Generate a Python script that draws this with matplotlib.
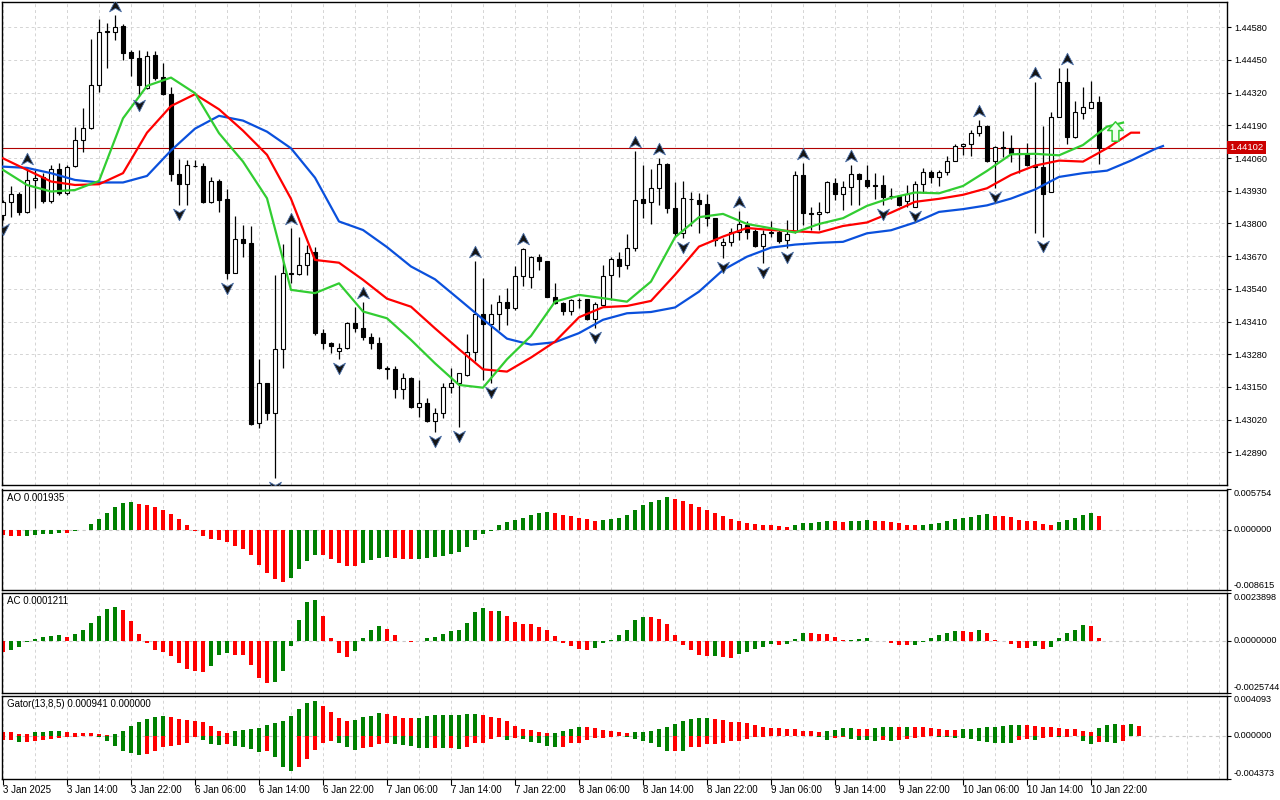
import numpy as np
import matplotlib
matplotlib.use('Agg')
import matplotlib.pyplot as plt
from matplotlib.path import Path
from matplotlib.transforms import offset_copy, blended_transform_factory

plt.rcParams['font.family'] = ['Liberation Sans', 'DejaVu Sans']
plt.rcParams['font.size'] = 7

# ---- price data (H1 candles, 3 Jan 06:00 .. 10 Jan 23:00) ----
opens = [1.43834, 1.43884, 1.43916, 1.43847, 1.43972, 1.43986, 1.43890, 1.44016, 1.43920, 1.44029,
         1.44130, 1.44179, 1.44351, 1.44564, 1.44563, 1.44586, 1.44480, 1.44457, 1.44338, 1.44470,
         1.44381, 1.44314, 1.43997, 1.43956, 1.44030, 1.44030, 1.43887, 1.43969, 1.43898, 1.43605,
         1.43737, 1.43721, 1.43006, 1.43165, 1.43045, 1.43300, 1.43599, 1.43598, 1.43633, 1.43686,
         1.43364, 1.43326, 1.43293, 1.43304, 1.43406, 1.43383, 1.43350, 1.43324, 1.43226, 1.43220,
         1.43141, 1.43187, 1.43069, 1.43085, 1.43016, 1.43045, 1.43149, 1.43165, 1.43198, 1.43288,
         1.43439, 1.43399, 1.43439, 1.43489, 1.43463, 1.43592, 1.43586, 1.43666, 1.43649, 1.43509,
         1.43485, 1.43450, 1.43497, 1.43499, 1.43419, 1.43476, 1.43596, 1.43658, 1.43635, 1.43702,
         1.43896, 1.43884, 1.43943, 1.44036, 1.43861, 1.43761, 1.43899, 1.43894, 1.43878, 1.43821,
         1.43715, 1.43725, 1.43765, 1.43794, 1.43770, 1.43712, 1.43764, 1.43765, 1.43735, 1.43770,
         1.43993, 1.43842, 1.43837, 1.43845, 1.43960, 1.43916, 1.43944, 1.43997, 1.43973, 1.43953,
         1.43953, 1.43911, 1.43911, 1.43890, 1.43867, 1.43957, 1.44006, 1.43984, 1.44004, 1.44050,
         1.44108, 1.44115, 1.44159, 1.44189, 1.44049, 1.44103, 1.44102, 1.44075, 1.44075, 1.44029,
         1.44026, 1.43927, 1.44225, 1.44362, 1.44143, 1.44238, 1.44261, 1.44282]
highs = [1.43894, 1.43947, 1.43927, 1.44020, 1.44013, 1.44000, 1.44033, 1.44040, 1.44033, 1.44185,
         1.44258, 1.44533, 1.44612, 1.44596, 1.44629, 1.44594, 1.44490, 1.44488, 1.44484, 1.44484,
         1.44440, 1.44344, 1.44055, 1.44053, 1.44053, 1.44040, 1.43986, 1.43977, 1.43936, 1.43830,
         1.43794, 1.43788, 1.43260, 1.43167, 1.43596, 1.43717, 1.43781, 1.43745, 1.43715, 1.43708,
         1.43379, 1.43330, 1.43324, 1.43410, 1.43469, 1.43489, 1.43364, 1.43348, 1.43234, 1.43234,
         1.43204, 1.43191, 1.43178, 1.43105, 1.43065, 1.43167, 1.43224, 1.43207, 1.43359, 1.43649,
         1.43582, 1.43480, 1.43516, 1.43542, 1.43629, 1.43702, 1.43671, 1.43678, 1.43651, 1.43562,
         1.43489, 1.43499, 1.43505, 1.43501, 1.43489, 1.43635, 1.43668, 1.43688, 1.43759, 1.44089,
         1.44033, 1.44016, 1.44059, 1.44042, 1.43963, 1.43967, 1.43927, 1.43923, 1.43916, 1.43823,
         1.43744, 1.43781, 1.43851, 1.43808, 1.43777, 1.43774, 1.43808, 1.43774, 1.43814, 1.44009,
         1.44040, 1.43867, 1.43887, 1.43967, 1.43980, 1.43967, 1.44033, 1.44002, 1.44033, 1.44002,
         1.43993, 1.43940, 1.43914, 1.43953, 1.43967, 1.44020, 1.44013, 1.44013, 1.44070, 1.44116,
         1.44119, 1.44172, 1.44212, 1.44192, 1.44108, 1.44168, 1.44152, 1.44099, 1.44119, 1.44362,
         1.44188, 1.44242, 1.44417, 1.44417, 1.44285, 1.44342, 1.44367, 1.44305]
lows = [1.43814, 1.43827, 1.43834, 1.43843, 1.43861, 1.43880, 1.43883, 1.43914, 1.43914, 1.44026,
        1.44086, 1.44175, 1.44321, 1.44417, 1.44530, 1.44450, 1.44387, 1.44307, 1.44334, 1.44371,
        1.44311, 1.43967, 1.43874, 1.43874, 1.44024, 1.43883, 1.43883, 1.43847, 1.43578, 1.43602,
        1.43668, 1.42999, 1.42986, 1.43019, 1.42787, 1.43224, 1.43562, 1.43596, 1.43596, 1.43357,
        1.43300, 1.43284, 1.43260, 1.43301, 1.43370, 1.43337, 1.43300, 1.43220, 1.43181, 1.43105,
        1.43101, 1.43067, 1.43032, 1.43012, 1.42972, 1.43025, 1.43125, 1.42992, 1.43195, 1.43255,
        1.43178, 1.43165, 1.43377, 1.43397, 1.43456, 1.43552, 1.43542, 1.43615, 1.43507, 1.43480,
        1.43436, 1.43436, 1.43463, 1.43417, 1.43383, 1.43474, 1.43496, 1.43589, 1.43618, 1.43692,
        1.43821, 1.43798, 1.43874, 1.43841, 1.43745, 1.43741, 1.43788, 1.43761, 1.43788, 1.43711,
        1.43662, 1.43711, 1.43735, 1.43737, 1.43708, 1.43642, 1.43745, 1.43721, 1.43702, 1.43761,
        1.43794, 1.43774, 1.43774, 1.43841, 1.43894, 1.43854, 1.43874, 1.43874, 1.43940, 1.43896,
        1.43874, 1.43896, 1.43871, 1.43867, 1.43865, 1.43923, 1.43960, 1.43949, 1.43993, 1.44047,
        1.44073, 1.44069, 1.44148, 1.44046, 1.43940, 1.44066, 1.44046, 1.44000, 1.44029, 1.43764,
        1.43748, 1.43924, 1.44222, 1.44116, 1.44139, 1.44214, 1.44258, 1.44036]
closes = [1.43887, 1.43916, 1.43847, 1.43973, 1.43982, 1.43890, 1.44016, 1.43923, 1.44026, 1.44130,
          1.44179, 1.44351, 1.44560, 1.44560, 1.44580, 1.44477, 1.44457, 1.44351, 1.44464, 1.44380,
          1.44314, 1.43997, 1.43956, 1.44033, 1.44028, 1.43887, 1.43969, 1.43894, 1.43605, 1.43737,
          1.43721, 1.43003, 1.43165, 1.43045, 1.43300, 1.43602, 1.43605, 1.43635, 1.43682, 1.43364,
          1.43324, 1.43311, 1.43304, 1.43406, 1.43383, 1.43350, 1.43324, 1.43224, 1.43223, 1.43141,
          1.43187, 1.43069, 1.43085, 1.43016, 1.43045, 1.43149, 1.43165, 1.43204, 1.43287, 1.43439,
          1.43399, 1.43439, 1.43489, 1.43463, 1.43592, 1.43698, 1.43666, 1.43651, 1.43509, 1.43485,
          1.43450, 1.43496, 1.43495, 1.43419, 1.43479, 1.43592, 1.43658, 1.43631, 1.43702, 1.43894,
          1.43880, 1.43943, 1.44036, 1.43861, 1.43761, 1.43900, 1.43896, 1.43878, 1.43821, 1.43735,
          1.43725, 1.43765, 1.43797, 1.43768, 1.43711, 1.43757, 1.43766, 1.43731, 1.43757, 1.43993,
          1.43841, 1.43839, 1.43845, 1.43963, 1.43916, 1.43944, 1.43997, 1.43976, 1.43947, 1.43949,
          1.43907, 1.43908, 1.43874, 1.43916, 1.43956, 1.44006, 1.43984, 1.44004, 1.44050, 1.44110,
          1.44115, 1.44159, 1.44189, 1.44049, 1.44106, 1.44100, 1.44079, 1.44079, 1.44033, 1.44024,
          1.43916, 1.44225, 1.44362, 1.44143, 1.44242, 1.44262, 1.44281, 1.44102]
bid_price = 1.44102

# ---- Alligator lines, read every 3 bars (shifted lines run past the last candle) ----
jaw_bars = list(range(0, 145, 3)) + [145]
jaw = [1.44026, 1.44021, 1.44000, 1.43973, 1.43963, 1.43963, 1.43989, 1.44090, 1.44177, 1.44228,
       1.44209, 1.44165, 1.44099, 1.43982, 1.43808, 1.43774, 1.43706, 1.43629, 1.43578, 1.43499,
       1.43419, 1.43342, 1.43318, 1.43328, 1.43364, 1.43417, 1.43443, 1.43448, 1.43466, 1.43529,
       1.43615, 1.43668, 1.43704, 1.43716, 1.43723, 1.43727, 1.43761, 1.43773, 1.43804, 1.43846,
       1.43857, 1.43872, 1.43899, 1.43935, 1.43985, 1.44000, 1.44010, 1.44050, 1.44096, 1.44108]
teeth_bars = list(range(0, 142, 3)) + [142]
teeth = [1.44059, 1.44013, 1.43967, 1.43953, 1.43956, 1.44000, 1.44161, 1.44267, 1.44314, 1.44254,
         1.44169, 1.44073, 1.43898, 1.43655, 1.43644, 1.43576, 1.43501, 1.43469, 1.43383, 1.43300,
         1.43220, 1.43211, 1.43267, 1.43330, 1.43427, 1.43467, 1.43472, 1.43492, 1.43596, 1.43708,
         1.43748, 1.43782, 1.43774, 1.43769, 1.43764, 1.43790, 1.43804, 1.43843, 1.43886, 1.43898,
         1.43914, 1.43940, 1.43993, 1.44030, 1.44050, 1.44046, 1.44099, 1.44161, 1.44161]
lips_bars = list(range(0, 139, 3)) + [140]
lips = [1.44013, 1.43953, 1.43927, 1.43933, 1.43969, 1.44218, 1.44347, 1.44380, 1.44318, 1.44159,
        1.44046, 1.43900, 1.43536, 1.43523, 1.43562, 1.43450, 1.43423, 1.43337, 1.43244, 1.43158,
        1.43147, 1.43260, 1.43353, 1.43489, 1.43516, 1.43503, 1.43489, 1.43569, 1.43745, 1.43825,
        1.43838, 1.43798, 1.43781, 1.43764, 1.43798, 1.43821, 1.43870, 1.43902, 1.43923, 1.43920,
        1.43949, 1.44009, 1.44075, 1.44077, 1.44071, 1.44112, 1.44185, 1.44201]

fractal_up = [3, 14, 36, 45, 59, 65, 79, 82, 92, 100, 106, 122, 129, 133]
fractal_down = [0, 17, 22, 28, 34, 42, 54, 57, 61, 74, 85, 90, 95, 98, 110, 114, 124, 130]
signal_bar = 139
signal_price = 1.44168

# ---- oscillators ----
ao = [-0.00081, -0.00091, -0.00094, -0.00090, -0.00077, -0.00067, -0.00057, -0.00048, -0.00050, -0.00019,
      -0.00005, 0.00077, 0.00148, 0.00244, 0.00331, 0.00388, 0.00402, 0.00374, 0.00354, 0.00321,
      0.00278, 0.00220, 0.00148, 0.00062, -0.00019, -0.00091, -0.00139, -0.00153, -0.00177, -0.00235,
      -0.00283, -0.00364, -0.00513, -0.00618, -0.00714, -0.00752, -0.00699, -0.00570, -0.00450, -0.00364,
      -0.00366, -0.00426, -0.00484, -0.00522, -0.00527, -0.00484, -0.00441, -0.00412, -0.00398, -0.00412,
      -0.00426, -0.00430, -0.00426, -0.00412, -0.00398, -0.00378, -0.00354, -0.00321, -0.00254, -0.00153,
      -0.00062, -0.00019, 0.00062, 0.00105, 0.00134, 0.00163, 0.00206, 0.00235, 0.00249, 0.00235,
      0.00206, 0.00192, 0.00163, 0.00148, 0.00120, 0.00134, 0.00148, 0.00163, 0.00206, 0.00278,
      0.00350, 0.00393, 0.00431, 0.00465, 0.00436, 0.00407, 0.00364, 0.00321, 0.00278, 0.00235,
      0.00192, 0.00148, 0.00120, 0.00101, 0.00079, 0.00062, 0.00060, 0.00048, 0.00034, 0.00062,
      0.00091, 0.00093, 0.00105, 0.00120, 0.00118, 0.00105, 0.00120, 0.00122, 0.00134, 0.00120,
      0.00118, 0.00105, 0.00091, 0.00062, 0.00060, 0.00063, 0.00077, 0.00091, 0.00120, 0.00148,
      0.00163, 0.00177, 0.00206, 0.00220, 0.00192, 0.00190, 0.00177, 0.00134, 0.00120, 0.00118,
      0.00077, 0.00062, 0.00105, 0.00134, 0.00163, 0.00206, 0.00235, 0.001935]
ac = [-0.00055, -0.00047, -0.00030, -0.00005, 0.00007, 0.00017, 0.00022, 0.00027, 0.00017, 0.00032,
      0.00052, 0.00087, 0.00122, 0.00157, 0.00167, 0.00152, 0.00097, 0.00032, -0.00012, -0.00047,
      -0.00058, -0.00077, -0.00112, -0.00142, -0.00152, -0.00157, -0.00127, -0.00072, -0.00062, -0.00072,
      -0.00073, -0.00122, -0.00187, -0.00212, -0.00207, -0.00152, -0.00027, 0.00102, 0.00192, 0.00202,
      0.00122, 0.00012, -0.00062, -0.00082, -0.00052, 0.00012, 0.00052, 0.00072, 0.00057, 0.00027,
      -0.00003, -0.00008, -0.00002, 0.00012, 0.00017, 0.00032, 0.00047, 0.00052, 0.00087, 0.00142,
      0.00162, 0.00147, 0.00148, 0.00122, 0.00092, 0.00082, 0.00081, 0.00067, 0.00052, 0.00022,
      -0.00013, -0.00028, -0.00043, -0.00044, -0.00038, -0.00013, 0.00005, 0.00027, 0.00052, 0.00102,
      0.00117, 0.00116, 0.00107, 0.00082, 0.00027, -0.00023, -0.00048, -0.00073, -0.00078, -0.00075,
      -0.00083, -0.00087, -0.00067, -0.00058, -0.00043, -0.00033, -0.00018, -0.00023, -0.00019, 0.00007,
      0.00037, 0.00036, 0.00032, 0.00031, 0.00017, 0.00002, 0.00005, 0.00006, 0.00012, -0.00001,
      -0.00003, -0.00013, -0.00023, -0.00024, -0.00022, -0.00005, 0.00012, 0.00027, 0.00037, 0.00047,
      0.00046, 0.00045, 0.00052, 0.00037, 0.00005, -0.00002, -0.00018, -0.00038, -0.00039, -0.00028,
      -0.00043, -0.00033, 0.00012, 0.00037, 0.00052, 0.00077, 0.00072, 0.0001211]
gator_up = [0.00041, 0.00034, 0.00017, 0.00016, 0.00034, 0.00035, 0.00044, 0.00045, 0.00034, 0.00031,
            0.00024, 0.00023, 0.00014, 0.00010, 0.00020, 0.00044, 0.00095, 0.00136, 0.00166, 0.00193,
            0.00197, 0.00186, 0.00166, 0.00156, 0.00146, 0.00136, 0.00095, 0.00044, 0.00024, 0.00044,
            0.00054, 0.00064, 0.00078, 0.00105, 0.00125, 0.00146, 0.00197, 0.00268, 0.00329, 0.00349,
            0.00298, 0.00237, 0.00180, 0.00146, 0.00156, 0.00186, 0.00203, 0.00227, 0.00217, 0.00197,
            0.00176, 0.00175, 0.00177, 0.00197, 0.00207, 0.00208, 0.00209, 0.00210, 0.00217, 0.00218,
            0.00207, 0.00186, 0.00176, 0.00146, 0.00095, 0.00064, 0.00054, 0.00034, 0.00024, 0.00026,
            0.00044, 0.00064, 0.00085, 0.00084, 0.00075, 0.00054, 0.00044, 0.00034, 0.00031, 0.00033,
            0.00034, 0.00044, 0.00064, 0.00085, 0.00115, 0.00146, 0.00166, 0.00176, 0.00177, 0.00166,
            0.00156, 0.00136, 0.00135, 0.00125, 0.00105, 0.00085, 0.00075, 0.00074, 0.00064, 0.00063,
            0.00044, 0.00043, 0.00041, 0.00044, 0.00054, 0.00075, 0.00076, 0.00064, 0.00063, 0.00075,
            0.00085, 0.00086, 0.00084, 0.00085, 0.00084, 0.00083, 0.00075, 0.00064, 0.00054, 0.00053,
            0.00064, 0.00065, 0.00075, 0.00085, 0.00086, 0.00095, 0.00105, 0.00106, 0.00105, 0.00095,
            0.00085, 0.00084, 0.00075, 0.00064, 0.00063, 0.00044, 0.00034, 0.00075, 0.00105, 0.00115,
            0.00105, 0.00115, 0.000941]
gator_down = [-0.00041, -0.00041, -0.00061, -0.00060, -0.00058, -0.00041, -0.00031, -0.00020, -0.00014, -0.00010,
              -0.00007, -0.00003, -0.00010, -0.00051, -0.00105, -0.00153, -0.00180, -0.00193, -0.00183, -0.00153,
              -0.00115, -0.00102, -0.00092, -0.00078, -0.00017, -0.00044, -0.00085, -0.00091, -0.00088, -0.00102,
              -0.00112, -0.00136, -0.00163, -0.00159, -0.00214, -0.00315, -0.00356, -0.00322, -0.00237, -0.00146,
              -0.00075, -0.00051, -0.00071, -0.00119, -0.00142, -0.00129, -0.00112, -0.00088, -0.00078, -0.00088,
              -0.00098, -0.00108, -0.00129, -0.00130, -0.00128, -0.00129, -0.00127, -0.00139, -0.00119, -0.00078,
              -0.00077, -0.00037, -0.00017, -0.00047, -0.00024, -0.00037, -0.00068, -0.00078, -0.00108, -0.00119,
              -0.00118, -0.00078, -0.00077, -0.00047, -0.00027, -0.00024, -0.00010, -0.00007, -0.00017, -0.00034,
              -0.00058, -0.00078, -0.00119, -0.00159, -0.00153, -0.00160, -0.00119, -0.00118, -0.00088, -0.00087,
              -0.00078, -0.00058, -0.00057, -0.00037, -0.00017, -0.00010, -0.00003, -0.00004, -0.00003, -0.00004,
              -0.00003, -0.00001, -0.00010, -0.00041, -0.00024, -0.00010, -0.00034, -0.00041, -0.00047, -0.00051,
              -0.00047, -0.00058, -0.00047, -0.00034, -0.00024, -0.00010, -0.00007, -0.00010, -0.00017, -0.00024,
              -0.00025, -0.00034, -0.00058, -0.00068, -0.00071, -0.00075, -0.00078, -0.00041, -0.00037, -0.00047,
              -0.00024, -0.00010, -0.00011, -0.00010, -0.00007, -0.00058, -0.00085, -0.00068, -0.00069, -0.00078,
              -0.00058]

price_ticks = [1.44580, 1.44450, 1.44320, 1.44190, 1.44060, 1.43930, 1.43800,
               1.43670, 1.43540, 1.43410, 1.43280, 1.43150, 1.43020, 1.42890]
ao_ticks = [-0.008615, 0.0, 0.005754]
ao_labels = ['-0.008615', '0.000000', '0.005754']
ac_ticks = [-0.0025744, 0.0, 0.0023898]
ac_labels = ['-0.0025744', '0.0000000', '0.0023898']
gator_ticks = [-0.004373, 0.0, 0.004093]
gator_labels = ['-0.004373', '0.000000', '0.004093']
date_labels = ['3 Jan 2025', '3 Jan 14:00', '3 Jan 22:00', '6 Jan 06:00', '6 Jan 14:00', '6 Jan 22:00',
               '7 Jan 06:00', '7 Jan 14:00', '7 Jan 22:00', '8 Jan 06:00', '8 Jan 14:00', '8 Jan 22:00',
               '9 Jan 06:00', '9 Jan 14:00', '9 Jan 22:00', '10 Jan 06:00', '10 Jan 14:00', '10 Jan 22:00']

GREEN = '#008000'
RED = '#ff0000'
GRID = '#d4d4d4'

W, H = 1280, 800
fig = plt.figure(figsize=(12.8, 8), dpi=100)
fig.patch.set_facecolor('white')


def panel(top, bottom):
    a = fig.add_axes([2 / W, 1 - bottom / H, 1225 / W, (bottom - top) / H])
    a.set_xlim(-0.125, 153)
    a.set_xticks(np.arange(0, 154, 4), minor=True)
    a.set_xticks([])
    a.grid(which='minor', axis='x', color=GRID, lw=0.7, ls=(0, (3, 3)))
    a.tick_params(which='minor', length=0)
    a.yaxis.tick_right()
    a.tick_params(axis='y', direction='out', length=3, pad=2, labelsize=6.6)
    for s in a.spines.values():
        s.set_linewidth(1)
        s.set_color('black')
    return a


ax = panel(2, 485)
ax_ao = panel(489.5, 589.5)
ax_ac = panel(592.5, 692.5)
ax_gt = panel(695.5, 778.5)

# ---- main chart ----
o = np.array(opens)
h = np.array(highs)
l = np.array(lows)
c = np.array(closes)
x = np.arange(len(o))
bull = c >= o

ax.set_ylim(1.427601, 1.446806)
ax.set_yticks(price_ticks)
ax.set_yticklabels(['%.5f' % p for p in price_ticks])
ax.grid(which='major', axis='y', color=GRID, lw=0.7, ls=(0, (3, 3)))

ax.vlines(x, l, h, color='black', lw=0.9, zorder=2)
ax.bar(x, np.maximum(np.abs(c - o), 0.000015), bottom=np.minimum(o, c), width=0.55,
       color=np.where(bull, 'white', 'black'), edgecolor='black', linewidth=0.8, zorder=3)

ax.plot(jaw_bars, jaw, color='#0a50dc', lw=1.6, zorder=4)
ax.plot(teeth_bars, teeth, color='#ff0000', lw=1.6, zorder=4)
ax.plot(lips_bars, lips, color='#32cd32', lw=1.6, zorder=4)

ax.axhline(bid_price, color='#b00000', lw=0.8, zorder=1)
tr = blended_transform_factory(ax.transAxes, ax.transData)
ax.text(1.002, bid_price, '%.5f' % bid_price, transform=tr, color='white', fontsize=6.8,
        va='center', ha='left', bbox=dict(facecolor='#cc0000', edgecolor='none', pad=1.6))

# fractal arrows
up_path = Path([(0, 1), (0.95, -0.85), (0, -0.3), (-0.95, -0.85), (0, 1)],
               [Path.MOVETO, Path.LINETO, Path.LINETO, Path.LINETO, Path.CLOSEPOLY])
down_path = Path([(0, -1), (0.95, 0.85), (0, 0.3), (-0.95, 0.85), (0, -1)],
                 [Path.MOVETO, Path.LINETO, Path.LINETO, Path.LINETO, Path.CLOSEPOLY])
tr_up = offset_copy(ax.transData, fig=fig, y=9, units='dots')
tr_dn = offset_copy(ax.transData, fig=fig, y=-9, units='dots')
ax.plot(fractal_up, h[fractal_up], ls='none', marker=up_path, ms=9, color='#151515',
        mec='#4a6fa8', mew=0.6, transform=tr_up, zorder=5)
ax.plot(fractal_down, l[fractal_down], ls='none', marker=down_path, ms=9, color='#151515',
        mec='#4a6fa8', mew=0.6, transform=tr_dn, zorder=5)

arrow_path = Path([(0, 1), (0.8, 0.1), (0.35, 0.1), (0.35, -1), (-0.35, -1), (-0.35, 0.1),
                   (-0.8, 0.1), (0, 1)],
                  [Path.MOVETO] + [Path.LINETO] * 6 + [Path.CLOSEPOLY])
ax.plot([signal_bar], [signal_price], ls='none', marker=arrow_path, ms=14,
        mfc='#f0fff0', mec='#33cc33', mew=1.1, zorder=6)


# ---- oscillators ----
def up_down_colors(vals):
    v = np.abs(np.array(vals))
    grow = np.r_[False, v[1:] > v[:-1]]
    return np.where(grow, GREEN, RED)


def signed_colors(vals):
    v = np.array(vals)
    grow = np.r_[False, v[1:] > v[:-1]]
    return np.where(grow, GREEN, RED)


def osc_axis(a, ticks, labels, title):
    a.set_ylim(ticks[0], ticks[-1])
    a.set_yticks(ticks)
    a.set_yticklabels(labels)
    for lbl, va in zip(a.get_yticklabels(), ['bottom', 'center', 'top']):
        lbl.set_verticalalignment(va)
    a.axhline(0, color='#c8c8c8', lw=0.8, ls=(0, (3, 3)), zorder=0)
    a.text(0.004, 0.96, title, transform=a.transAxes, ha='left', va='top', fontsize=7)


ax_ao.bar(np.arange(len(ao)), ao, width=0.45, color=signed_colors(ao), zorder=2)
osc_axis(ax_ao, ao_ticks, ao_labels, 'AO %.6f' % ao[-1])

ax_ac.bar(np.arange(len(ac)), ac, width=0.45, color=signed_colors(ac), zorder=2)
osc_axis(ax_ac, ac_ticks, ac_labels, 'AC %.7f' % ac[-1])

ax_gt.bar(np.arange(len(gator_up)), gator_up, width=0.45, color=up_down_colors(gator_up), zorder=2)
ax_gt.bar(np.arange(len(gator_down)), gator_down, width=0.45, color=up_down_colors(gator_down), zorder=2)
osc_axis(ax_gt, gator_ticks, gator_labels, 'Gator(13,8,5) %.6f %.6f' % (gator_up[-1], 0.0))

# date axis under the last panel
ax_gt.set_xticks(np.arange(len(date_labels)) * 8)
ax_gt.set_xticklabels(date_labels)
ax_gt.grid(which='major', axis='x', color=GRID, lw=0.7, ls=(0, (3, 3)))
ax_gt.tick_params(axis='x', which='major', direction='out', length=4, pad=1, labelsize=7)
for lbl in ax_gt.get_xticklabels():
    lbl.set_horizontalalignment('left')

fig.savefig('out.png', dpi=100)
